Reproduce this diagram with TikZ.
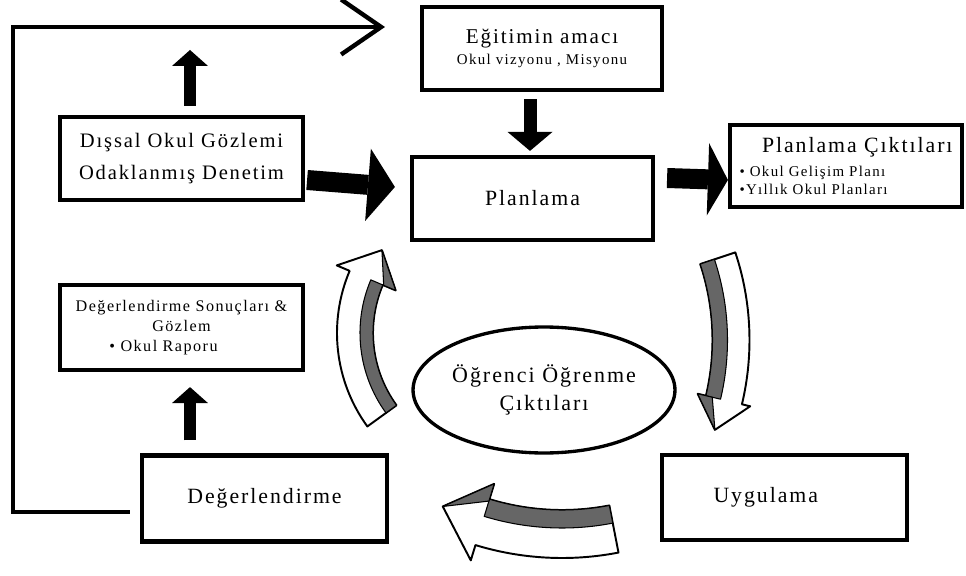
\documentclass[tikz,border=0pt]{standalone}
\usepackage{fontspec}
\setmainfont{Liberation Serif}[LetterSpace=9]
\usetikzlibrary{arrows.meta,calc,shapes.geometric}

\tikzset{
  box/.style={draw,line width=2.4pt,minimum width=4.86cm,minimum height=1.66cm,inner sep=1pt},
  bigtxt/.style={font=\fontsize{12.4}{14}\selectfont},
  upblk/.style={line width=0.24cm,-{Triangle[length=0.32cm,width=0.72cm,line width=0pt]}},
  downblk/.style={line width=0.26cm,-{Triangle[length=0.38cm,width=0.9cm,line width=0pt]}},
  sideblk/.style={line width=0.4cm,-{Triangle[length=#1,width=1.45cm,line width=0pt]}},
  loopline/.style={line width=2.5pt,-{Straight Barb[length=0.8cm,width=1.1cm]}},
  bendbody/.style={fill=white,draw=black,line width=1.1pt,line join=round},
  bendside/.style={fill=black!60,draw=black,line width=0.6pt,line join=round}
}

% centre x, centre y, radius, half width, shaded band, head half width,
% tail angle, head base angle, tip angle
\newcommand{\bendarrow}[9]{%
  \pgfmathsetmacro\bRo{#3+#4}%
  \pgfmathsetmacro\bRi{#3-#4}%
  \pgfmathsetmacro\bRb{#3-#4+#5}%
  \pgfmathsetmacro\bHo{#3+#6}%
  \pgfmathsetmacro\bHi{#3-#6}%
  \pgfmathsetmacro\bHb{#3-#6+#5}%
  \begin{scope}[shift={(#1,#2)}]
    \filldraw[bendbody] (#7:\bRo) arc[start angle=#7,end angle=#8,radius=\bRo]
      -- (#8:\bHo) -- (#9:#3) -- (#8:\bHi) -- (#8:\bRi)
      arc[start angle=#8,end angle=#7,radius=\bRi] -- cycle;
    \filldraw[bendside] (#7:\bRi) arc[start angle=#7,end angle=#8,radius=\bRi]
      -- (#8:\bRb) arc[start angle=#8,end angle=#7,radius=\bRb] -- cycle;
    \filldraw[bendside] (#8:\bHi) -- (#9:#3) -- (#8:\bHb) -- cycle;
  \end{scope}}

\begin{document}
\begin{tikzpicture}[x=0.02cm,y=0.02cm]
\useasboundingbox (0,0) rectangle (966,575);

% boxes
\node[box,minimum width=4.8cm,align=center,font=\fontsize{12}{12}\selectfont] (egi) at (542,526.5)
  {Eğitimin amacı\\{\fontsize{8.5}{10}\selectfont Okul vizyonu , Misyonu}};
\node[box,minimum width=4.82cm,bigtxt] (plan) at (532.5,376.5) {Planlama};
\node[box,minimum width=4.64cm,minimum height=1.64cm,align=left,font=\fontsize{8.5}{10.2}\selectfont] (cikti) at (846,409)
  {\hspace*{0.45cm}{\fontsize{12.4}{14}\selectfont Planlama Çıktıları}\\[4pt]\textbullet\ Okul Gelişim Planı\\\textbullet Yıllık Okul Planları};
\node[box,align=center,font=\fontsize{11.7}{18}\selectfont] (dis) at (181.5,416.5)
  {Dışsal Okul Gözlemi\\Odaklanmış Denetim};
\node[box,minimum height=1.7cm,align=center,font=\fontsize{9.2}{11.6}\selectfont] (sonuc) at (181.5,247.5)
  {Değerlendirme Sonuçları \&\\Gözlem\\\textbullet\ Okul Raporu\hspace*{0.72cm}};
\node[box,minimum width=4.9cm,minimum height=1.72cm,bigtxt] (deg) at (264.5,76.5) {Değerlendirme};
\node[box,minimum width=4.9cm,minimum height=1.7cm,bigtxt] (uyg) at (784.5,77.5) {Uygulama\hspace*{0.75cm}};
\node[ellipse,draw,line width=1.9pt,minimum width=5.24cm,minimum height=2.52cm,inner sep=0pt,
  align=center,font=\fontsize{12.5}{16}\selectfont] (ogr) at (544,185) {Öğrenci Öğrenme\\Çıktıları};

% feedback loop
\coordinate (bl) at (13,63);
\coordinate (tl) at (13,548);
\coordinate (loopend) at (385,548);
\draw[loopline] ($(deg.west)+(-10,-13.5)$) -- (bl) -- (tl) -- (loopend);

% block arrows
\draw[upblk] ($(dis.north)+(8.5,9)$) -- ($(dis.north |- tl)+(8.5,-23)$);
\draw[upblk] ($(sonuc.south |- deg.north)+(8.5,13)$) -- ($(sonuc.south)+(8.5,-15)$);
\draw[downblk] ($(egi.south)+(-12,-7)$) -- ($(egi.south |- plan.north)+(-12,4)$);
\draw[sideblk=0.54cm] ($(dis.east)+(2,-21.5)$) -- ($(plan.west)+(-15,11.5)$);
\draw[sideblk=0.4cm] ($(plan.east)+(12,20.5)$) -- ($(cikti.west)+(0,-14)$);

% cycle arrows
\bendarrow{496}{242}{141}{18}{13}{32}{216}{157}{144}
\bendarrow{472}{235}{259}{18.5}{15}{27}{18.4}{-13.4}{-20.3}
\bendarrow{562}{313}{272}{24}{18}{40}{281}{253}{244}
\end{tikzpicture}
\end{document}
